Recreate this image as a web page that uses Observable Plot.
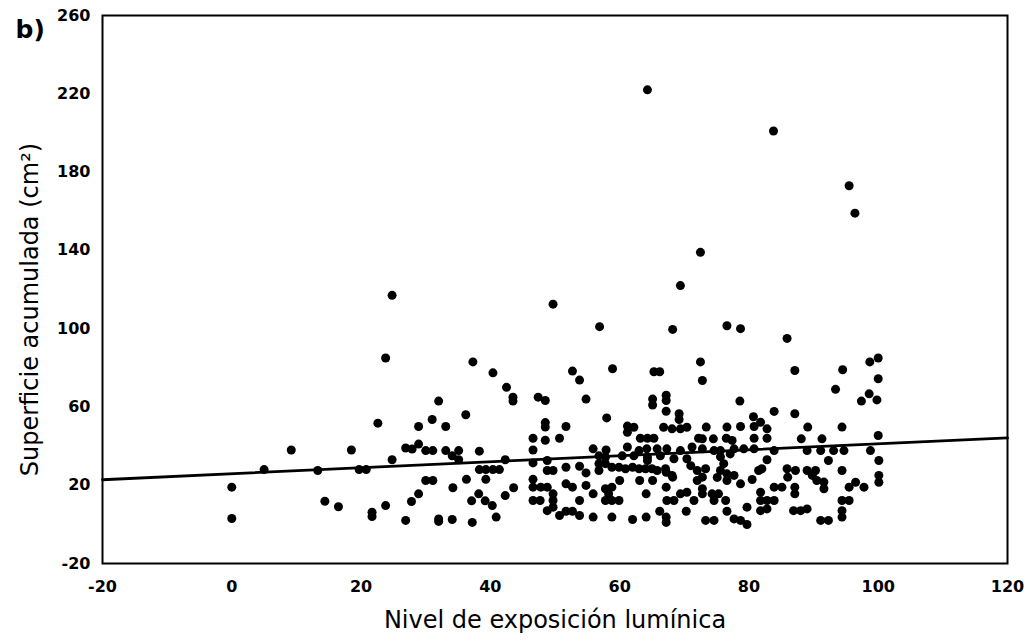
<!DOCTYPE html>
<html>
<head>
<meta charset="utf-8">
<script src="https://cdn.jsdelivr.net/npm/d3@7"></script>
<script src="https://cdn.jsdelivr.net/npm/@observablehq/plot@0.6"></script>
<style>
  html, body { margin: 0; padding: 0; background: white; }
</style>
</head>
<body>
<div id="chart"></div>
<script>
// Nivel de exposición lumínica (x) and Superficie acumulada (y)
const exposicion = [
  0, 0, 5, 9.2, 13.3, 14.4, 16.5, 18.5, 19.7, 20.8, 21.7, 21.7, 22.6, 23.8, 24.8, 24.8, 23.8,
  26.9, 27.9, 28.9, 30, 31.1, 33.1, 34.1, 35.1, 35.1, 38.3, 42.3, 28.9, 31, 33.1, 32, 36.2,
  37.3, 40.4, 42.5, 43.5, 43.5, 47.4, 48.5, 48.5, 48.5, 48.5, 46.6, 46.6, 46.6, 48.8,
  38.3, 39.3, 40.4, 41.4, 39.3, 30, 31.1, 36.3, 34.2, 28.9, 27.8, 38.2, 37.1, 39.2, 40.3,
  42.3, 43.6, 40.9, 26.9, 32, 32, 34.1, 37.2, 46.6, 46.6, 47.8, 48.8, 46.6, 47.7, 48.8, 48.8, 49.7,
  56.9, 68.2, 72.5, 72.8, 52.7, 53.8, 58.9, 65.3, 66.2,
  54.8, 65.1, 65.1, 67.2, 67.2, 67.2, 69.2, 69.2, 66.8, 68.1, 69.4, 70.4,
  58, 51.7, 50.7, 61.2, 62.2, 61.2, 63.2, 64.3, 65.3, 72.2,
  55.9, 57.9, 61.2, 63, 64.2, 65.8, 67.3, 69.4, 71.2,
  56.8, 57.8, 60.4, 62.2, 64.3, 66.3, 68.4, 70.4, 64.3,
  56.8, 56.8, 57.8, 58.8, 59.9, 60.9, 62, 63, 64, 65, 65.8, 67.1, 68.1, 71, 72,
  49.7, 51.7, 53.8, 54.8,
  60, 63.1, 65.1, 67.2, 68.2, 72,
  51.7, 52.7, 54.8, 55.9, 57.8, 58.8, 58.3,
  49.7, 49.7, 53.8, 57.8, 58.8, 59.9,
  64.1, 67.2, 67.3, 68.4, 69.4, 70.4, 71.5, 70.3,
  50.7, 51.7, 52.7, 53.8, 55.9, 58.8, 62, 64.1, 66.2, 67.2, 67.2, 49.7,
  64.3, 83.8, 95.5, 96.4, 72.5, 69.4,
  76.6, 78.7, 85.9, 87.1, 94.5, 93.4,
  78.6, 83.9, 87.1, 80.7, 81.8, 82.8,
  73.4, 76.6, 78.7, 80.8, 89.1, 94.4,
  72.8, 74.5, 76.5, 77.4, 80.8, 82.8, 88.1, 91.3,
  72.8, 74.6, 75.6, 77.7, 79.2, 80.8, 83.9, 89, 91.1, 93.1, 94.7,
  75.6, 77.1, 76.1, 75.6, 75.1,
  82.8, 92.3, 73.3, 72.8,
  76.6, 76.6, 77.7, 78.7, 80.5, 81.5, 82,
  85.9, 87.2, 86, 89, 90.3, 89.8,
  90.5, 91.6, 91.6, 94.4, 95.5,
  72.8, 72.8, 74.3, 75.3, 74.6, 76.4,
  83.9, 85.1, 87.1, 87.1,
  81.8, 81.8, 82.8, 83.9, 81.8, 82.8, 79.7, 76.6,
  86.9, 88, 89, 94.4, 95.5, 94.4, 94.4,
  73.3, 74.6, 77.7, 78.7, 79.7, 91.1, 92.3,
  98.7, 100, 100, 97.4, 98.6, 99.8, 100, 98.8, 100.1, 100.1, 100.1, 96.5, 97.8
];
const superficie = [
  19, 3, 28, 38, 27.5, 11.8, 9, 38, 28, 28, 6.2, 4, 51.7, 9.6, 33, 117, 85,
  39, 38.5, 41, 37.7, 37.7, 37.7, 35, 37.7, 33, 37.4, 33, 50, 53.6, 50, 63, 56,
  83, 77.4, 70, 65, 63, 65, 63.3, 52, 49.7, 43, 44, 38, 31.4, 32.6,
  28, 28, 28, 28, 23, 22.4, 22.4, 23, 18.7, 15.6, 11.7, 15.6, 12, 12, 9.6,
  14.7, 18.7, 3.7, 2, 2.8, 1.5, 2.5, 1, 23, 19, 19, 19, 12.2, 12.2, 7, 27.5, 112.5,
  101, 99.6, 83, 73.5, 78.3, 73.7, 79.5, 78, 78,
  64, 64, 61, 66, 63.3, 57.8, 56.5, 53.6, 49.6, 48.8, 48.8, 49.6,
  54.4, 50, 44, 50.2, 49.6, 47, 44, 44, 44, 44,
  38.6, 38, 39.5, 37.7, 38.6, 38.6, 38.6, 37.7, 39.5,
  35, 34.3, 35, 35, 34.3, 35, 33.5, 33.5, 32.6,
  31, 27.5, 31, 29.2, 29.2, 28.4, 29.2, 28.4, 28.4, 28.4, 27.5, 28.4, 25, 30, 27.5,
  27.5, 29.2, 29.7, 26.3,
  22.4, 22.4, 22.4, 26.6, 24.1, 22.4,
  20.7, 19, 19.9, 15.6, 18.2, 19, 15.5,
  15.6, 12.2, 12.2, 12.2, 12.2, 12.2,
  15.6, 19, 12.2, 12.2, 15.6, 16.4, 12.2, 6.7,
  4.5, 6.7, 6.7, 4.5, 3.7, 3.7, 2.5, 3.7, 6.7, 3.7, 1, 8.8,
  222, 201, 173, 159, 139, 122,
  101.5, 100, 95, 78.6, 79, 69,
  63, 57.7, 56.5, 55, 52.2, 48.8,
  49.7, 49.7, 50, 50, 49.7, 49.7,
  43.7, 43.7, 44, 42.9, 44, 44, 43.7, 43.7,
  38.6, 37.7, 37.7, 38.6, 38.6, 38.6, 37.7, 37.7, 37.7, 37.7, 37.7,
  34.5, 36, 31, 27.5, 24,
  33, 32.6, 28.4, 24.1,
  25.8, 22.4, 25, 20.7, 22.9, 27.5, 28.4,
  28.4, 27.5, 24.1, 27.5, 27.5, 25,
  22.4, 21.6, 18.2, 27.5, 19,
  18.2, 15.6, 15.6, 15.6, 12.2, 12.2,
  19, 19, 19, 15.6,
  16.4, 12.2, 12.2, 12.2, 7, 7.9, 8.8, 6.7,
  7, 7, 7.9, 12.2, 12.2, 7, 3.7,
  2, 2, 2.8, 2, -0.1, 2, 2,
  83, 85, 74.4, 63, 66.7, 63.6, 45.4, 37.7, 32.6, 25, 21.5, 21.5, 19
];

// Fitted regression line, read at the ends of the axis
const lineaX = [-20, 120];
const lineaY = [22.8, 44.2];

const xTicks = [-20, 0, 20, 40, 60, 80, 100, 120];
const yTicks = [-20, 20, 60, 100, 140, 180, 220, 260];

const puntos = exposicion.map((x, i) => ({x, y: superficie[i]}));
const linea = lineaX.map((x, i) => ({x, y: lineaY[i]}));
const fmt = d => String(d);

const chart = Plot.plot({
  width: 1034,
  height: 643,
  marginLeft: 102,
  marginRight: 27,
  marginTop: 15,
  marginBottom: 80,
  style: {fontFamily: "'DejaVu Sans', sans-serif", background: "white", color: "black", overflow: "visible"},
  x: {domain: [-20, 120]},
  y: {domain: [-20, 260]},
  marks: [
    Plot.frame({stroke: "black", strokeWidth: 2}),
    Plot.line(linea, {x: "x", y: "y", stroke: "black", strokeWidth: 2.8}),
    Plot.dot(puntos, {x: "x", y: "y", r: 4.5, fill: "black", stroke: "none"}),
    Plot.axisX({ticks: xTicks, tickFormat: fmt, tickSize: 0, tickPadding: 17, label: null, fontSize: 16, fontWeight: "bold"}),
    Plot.axisY({ticks: yTicks, tickFormat: fmt, tickSize: 0, tickPadding: 12, label: null, fontSize: 16, fontWeight: "bold"}),
    Plot.text(["Nivel de exposición lumínica"], {text: d => d, frameAnchor: "bottom", dy: 64, fontSize: 24, fill: "black"}),
    Plot.text(["Superficie acumulada (cm²)"], {text: d => d, frameAnchor: "left", textAnchor: "middle", dx: -72, dy: 20, rotate: -90, fontSize: 24, fill: "black"}),
    Plot.text(["b)"], {text: d => d, frameAnchor: "top-left", dx: -87, dy: 22, textAnchor: "start", lineAnchor: "bottom", fontSize: 25, fontWeight: "bold", fill: "black"})
  ]
});
document.getElementById("chart").appendChild(chart);
</script>
</body>
</html>
